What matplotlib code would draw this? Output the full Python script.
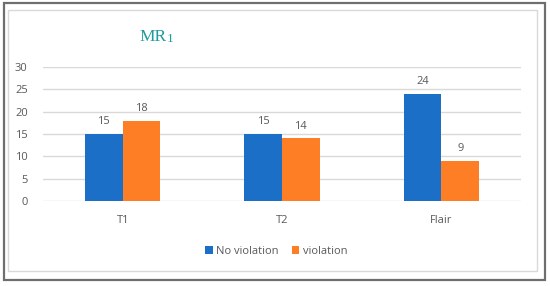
import numpy as np
import matplotlib
matplotlib.use("Agg")
import matplotlib.pyplot as plt
from matplotlib.patches import Rectangle

# data
categories = ["T1", "T2", "Flair"]
no_violation = [15, 15, 24]
violation = [18, 14, 9]
y_ticks = [0, 5, 10, 15, 20, 25, 30]

blue = "#1b6fc6"
orange = "#fd7e25"
text_gray = "#595959"

plt.rcParams["font.family"] = ["Open Sans", "DejaVu Sans"]

fig = plt.figure(figsize=(5.5, 2.86), dpi=100)
W, H = 550, 286

# outer frame (dark) and inner frame (light)
fig.patches.append(Rectangle((4 / W, 1 - 280 / H), 541 / W, 277 / H, transform=fig.transFigure,
                             fill=False, edgecolor="#6e6e6e", linewidth=1.6))
fig.patches.append(Rectangle((8 / W, 1 - 271 / H), 529 / W, 261 / H, transform=fig.transFigure,
                             fill=False, edgecolor="#d9d9d9", linewidth=1.0))

ax = fig.add_axes([43 / W, 1 - 201 / H, 478 / W, 134 / H])

x = np.arange(len(categories))
w = 0.237
b1 = ax.bar(x - w / 2, no_violation, w, color=blue, label="No violation", zorder=3)
b2 = ax.bar(x + w / 2, violation, w, color=orange, label="violation", zorder=3)

for bars in (b1, b2):
    ax.bar_label(bars, padding=5, fontsize=8, color=text_gray)

ax.set_xlim(-0.5, len(categories) - 0.5)
ax.set_ylim(0, 30)
ax.set_yticks(y_ticks)
ax.set_xticks(x)
ax.set_xticklabels(categories)
ax.tick_params(axis="both", length=0, labelsize=8, colors=text_gray)
ax.tick_params(axis="x", pad=10)
ax.tick_params(axis="y", pad=11)
ax.grid(axis="y", color="#d9d9d9", linewidth=1.0, zorder=0)
for s in ax.spines.values():
    s.set_visible(False)

# title "MR" with a small "1" after it
serif = ["Liberation Serif", "DejaVu Serif"]
fig.text(167 / W, 1 - 41 / H, "MR", ha="right", va="baseline", fontsize=12.5,
         color="#1f9b9b", family=serif)
fig.text(166.5 / W, 1 - 42 / H, "1", ha="left", va="baseline", fontsize=9.5,
         color="#1f9b9b", family=serif)

fig.legend(handles=[b1, b2], loc="center", bbox_to_anchor=(276 / W, 1 - 251 / H), ncol=2,
           frameon=False, fontsize=8, labelcolor=text_gray, handlelength=0.7, handleheight=0.7,
           handletextpad=0.3, columnspacing=1.2)

fig.savefig("out.png", dpi=100)
